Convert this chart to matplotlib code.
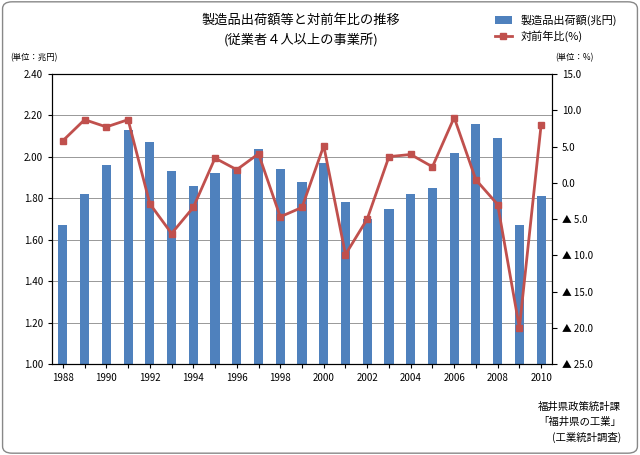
import matplotlib
matplotlib.use("Agg")
import matplotlib.pyplot as plt
from matplotlib.patches import FancyBboxPatch

plt.rcParams["font.family"] = "Noto Sans CJK JP"

years = list(range(1988, 2011))
shipments = [1.67, 1.82, 1.96, 2.13, 2.07, 1.93, 1.86, 1.92, 1.94, 2.04, 1.94, 1.88,
             1.97, 1.78, 1.70, 1.75, 1.82, 1.85, 2.02, 2.16, 2.09, 1.67, 1.81]
growth = [5.8, 8.7, 7.7, 8.7, -2.9, -7.0, -3.4, 3.4, 1.8, 4.0, -4.7, -3.4,
          5.1, -9.9, -5.0, 3.6, 3.9, 2.2, 9.0, 0.4, -3.0, -20.0, 8.0]
left_ticks = [1.00, 1.20, 1.40, 1.60, 1.80, 2.00, 2.20, 2.40]
right_ticks = [15, 10, 5, 0, -5, -10, -15, -20, -25]

fig = plt.figure(figsize=(6.4, 4.55), dpi=100)
fig.patches.append(FancyBboxPatch((0.004, 0.004), 0.992, 0.992, boxstyle="round,pad=0,rounding_size=0.015",
                                  transform=fig.transFigure, fill=False, ec="#888888", lw=1))
ax = fig.add_axes([52/640, 1-364/455, 500/640, 290/455])
ax.bar(years, shipments, width=0.42, color="#4F81BD", label="製造品出荷額(兆円)", zorder=2)
ax.set_ylim(1.0, 2.4)
ax.set_yticks(left_ticks)
ax.set_yticklabels([f"{v:.2f}" for v in left_ticks], fontsize=7)
ax.set_xlim(1987.5, 2010.5)
ax.set_xticks(years)
ax.set_xticklabels([str(y) if y % 2 == 0 else "" for y in years], fontsize=7)
ax.grid(axis="y", color="#888888", lw=0.6, zorder=0)
ax.tick_params(length=3)

ax2 = ax.twinx()
ax2.plot(years, growth, color="#C0504D", lw=2, marker="s", ms=5, label="対前年比(%)")
ax2.set_ylim(-25, 15)
ax2.set_yticks(right_ticks)
ax2.set_yticklabels([f"{v:.1f}" if v >= 0 else f"▲ {-v:.1f}" for v in right_ticks], fontsize=7)

fig.text(0.47, 0.955, "製造品出荷額等と対前年比の推移", ha="center", va="center", fontsize=9.5)
fig.text(0.47, 0.91, "(従業者４人以上の事業所)", ha="center", va="center", fontsize=9.5)
fig.text(10/640, 1-58/455, "(単位：兆円)", fontsize=6, va="center")
fig.text(555/640, 1-58/455, "(単位：%)", fontsize=6, va="center")
h1, l1 = ax.get_legend_handles_labels()
h2, l2 = ax2.get_legend_handles_labels()
fig.legend(h1 + h2, l1 + l2, loc="upper left", bbox_to_anchor=(485/640, 1-5/455), frameon=False,
           fontsize=8, handlelength=1.5, labelspacing=0.4)
fig.text(0.97, 1-407/455, "福井県政策統計課", ha="right", va="center", fontsize=7.5)
fig.text(0.97, 1-422/455, "「福井県の工業」", ha="right", va="center", fontsize=7.5)
fig.text(0.97, 1-437/455, "(工業統計調査)", ha="right", va="center", fontsize=7.5)
fig.savefig("out.png", dpi=100)
